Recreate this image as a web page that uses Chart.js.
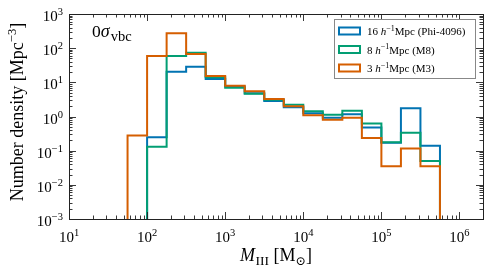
<!DOCTYPE html>
<html>
<head>
<meta charset="utf-8">
<script src="https://cdn.jsdelivr.net/npm/chart.js@4.4.1/dist/chart.umd.min.js"></script>
<style>
    html, body { margin: 0; padding: 0; background: #fff; }
    canvas { display: block; }
</style>
</head>
<body>
<canvas id="massChart" width="489" height="274"></canvas>
<script>
// --- Data ---

// histogram bin edges, M_III [Msun]
const binEdges = [56.2, 100, 177.8, 316.2, 562.3, 1000, 1778, 3162, 5623, 10000, 17783, 31623, 56234, 100000, 177828, 316228, 562341];

// number density per bin [Mpc^-3] (null = empty bin)
const phi4096 = [null, 0.245, 20.5, 28.5, 12.5, 7.6, 4.8, 2.85, 1.86, 1.24, 0.92, 1.16, 0.48, 0.17, 1.74, 0.14];
const m8 = [null, 0.13, 59, 74, 14, 7.0, 4.6, 3.1, 2.2, 1.42, 1.13, 1.48, 0.62, 0.176, 0.336, 0.05];
const m3 = [0.28, 59, 272, 67, 15.3, 8.0, 5.5, 3.25, 2.0, 1.08, 0.81, 0.92, 0.235, 0.035, 0.115, 0.035];

const seriesBox = ['16', '8', '3'];
const seriesRun = ['Phi-4096', 'M8', 'M3'];
const seriesColors = ['#0173b2', '#029e73', '#d55e00'];

// axis ticks
const xTickValues = [1e1, 1e2, 1e3, 1e4, 1e5, 1e6];
const xTickExps = ['1', '2', '3', '4', '5', '6'];
const yTickValues = [1e-3, 1e-2, 1e-1, 1e0, 1e1, 1e2, 1e3];
const yTickExps = ['\u22123', '\u22122', '\u22121', '0', '1', '2', '3'];

const xMin = 10, xMax = 2e6;
const yMin = 1e-3, yMax = 1e3;

const SERIF = '"Liberation Serif", "DejaVu Serif", serif';
const font = (size, style) => (style ? style + ' ' : '') + size + 'px ' + SERIF;

// step outline like matplotlib histtype='step'
function stepPoints(vals) {
    const pts = [];
    const first = vals.findIndex(v => v !== null);
    const n = vals.length;
    pts.push({ x: binEdges[first], y: yMin });
    for (let i = first; i < n; i++) pts.push({ x: binEdges[i], y: vals[i] });
    pts.push({ x: binEdges[n], y: vals[n - 1] });
    pts.push({ x: binEdges[n], y: yMin });
    return pts;
}

// --- rich text helpers (sub/superscripts) ---
function richWidth(ctx, parts) {
    let w = 0;
    parts.forEach(p => { ctx.font = p.f; w += ctx.measureText(p.t).width + (p.gap || 0); });
    return w;
}
function drawRich(ctx, x, y, parts) {
    parts.forEach(p => {
        ctx.font = p.f;
        ctx.fillText(p.t, x, y + (p.dy || 0));
        x += ctx.measureText(p.t).width + (p.gap || 0);
    });
}

// --- axes, ticks, labels, legend ---
const decorPlugin = {
    id: 'decor',
    afterDraw(chart) {
        const { ctx, chartArea: a, scales: { x, y } } = chart;
        ctx.save();

        // ticks (inward, all four sides)
        ctx.strokeStyle = '#222';
        ctx.lineWidth = 0.9;
        ctx.beginPath();
        for (let k = 0; k <= 7; k++) {
            for (let m = 1; m <= 9; m++) {
                const v = m * Math.pow(10, k);
                if (v < xMin || v > xMax) continue;
                const px = Math.round(x.getPixelForValue(v)) + 0.5;
                const len = m === 1 ? 7 : 3.5;
                ctx.moveTo(px, a.bottom); ctx.lineTo(px, a.bottom - len);
                ctx.moveTo(px, a.top); ctx.lineTo(px, a.top + len);
            }
        }
        for (let k = -3; k <= 3; k++) {
            for (let m = 1; m <= 9; m++) {
                const v = m * Math.pow(10, k);
                if (v < yMin * 0.999 || v > yMax * 1.001) continue;
                const py = Math.round(y.getPixelForValue(v)) + 0.5;
                const len = m === 1 ? 7 : 3.5;
                ctx.moveTo(a.left, py); ctx.lineTo(a.left + len, py);
                ctx.moveTo(a.right, py); ctx.lineTo(a.right - len, py);
            }
        }
        ctx.stroke();

        // frame
        ctx.lineWidth = 1;
        ctx.strokeRect(Math.round(a.left) + 0.5, Math.round(a.top) + 0.5,
            Math.round(a.right - a.left), Math.round(a.bottom - a.top));

        ctx.fillStyle = '#000';
        ctx.textBaseline = 'alphabetic';
        ctx.textAlign = 'left';

        // x tick labels
        xTickValues.forEach((v, i) => {
            const parts = [{ t: '10', f: font(15) }, { t: xTickExps[i], f: font(10.5), dy: -6 }];
            const w = richWidth(ctx, parts);
            drawRich(ctx, x.getPixelForValue(v) - w / 2, a.bottom + 23, parts);
        });

        // y tick labels
        yTickValues.forEach((v, i) => {
            const parts = [{ t: '10', f: font(15) }, { t: yTickExps[i], f: font(10.5), dy: -6 }];
            const w = richWidth(ctx, parts);
            drawRich(ctx, a.left - 6 - w, y.getPixelForValue(v) + 7, parts);
        });

        // x title: M_III [M_sun]
        const xt = [
            { t: 'M', f: font(18, 'italic'), gap: 0.5 },
            { t: 'III', f: font(13.5), dy: 3.5 },
            { t: ' [M', f: font(18) },
            { t: '\u2299', f: font(12.5), dy: 3.5 },
            { t: ']', f: font(18) }
        ];
        const xtw = richWidth(ctx, xt);
        drawRich(ctx, 276 - xtw / 2, 261, xt);

        // y title, rotated
        const yt = [
            { t: 'Number density [Mpc', f: font(18) },
            { t: '\u22123', f: font(12.5), dy: -7 },
            { t: ']', f: font(18) }
        ];
        const ytw = richWidth(ctx, yt);
        ctx.save();
        ctx.translate(23, 112);
        ctx.rotate(-Math.PI / 2);
        drawRich(ctx, -ytw / 2, 0, yt);
        ctx.restore();

        // annotation 0 sigma_vbc
        drawRich(ctx, a.left + 23, a.top + 23.3, [
            { t: '0', f: font(17.5) },
            { t: '\u03c3', f: font(18, 'italic'), gap: 1 },
            { t: 'vbc', f: font(14.5), dy: 3.5 }
        ]);

        // legend
        const lx = 334, ly = 19, lw = 141, lh = 59;
        ctx.fillStyle = '#fff';
        ctx.fillRect(lx, ly, lw, lh);
        ctx.strokeStyle = '#888';
        ctx.lineWidth = 1;
        ctx.strokeRect(lx + 0.5, ly + 0.5, lw, lh);
        seriesBox.forEach((s, i) => {
            const cy = 31 + i * 18.5;
            ctx.strokeStyle = seriesColors[i];
            ctx.lineWidth = 2;
            ctx.strokeRect(339, cy - 3.5, 21, 7);
            ctx.fillStyle = '#000';
            drawRich(ctx, 367, cy + 4, [
                { t: s + ' ', f: font(11) },
                { t: 'h', f: font(11, 'italic') },
                { t: '\u22121', f: font(8), dy: -4.5 },
                { t: 'Mpc (' + seriesRun[i] + ')', f: font(11) }
            ]);
        });

        ctx.restore();
    }
};

// --- Chart ---
const ctx = document.getElementById('massChart').getContext('2d');
new Chart(ctx, {
    type: 'line',
    data: {
        datasets: [phi4096, m8, m3].map((vals, i) => ({
            label: seriesBox[i] + ' h^-1 Mpc (' + seriesRun[i] + ')',
            data: stepPoints(vals),
            borderColor: seriesColors[i],
            backgroundColor: seriesColors[i],
            borderWidth: 2,
            stepped: 'before',
            fill: false,
            pointRadius: 0,
            borderJoinStyle: 'miter',
            order: 2 - i // later series drawn on top
        }))
    },
    options: {
        responsive: false,
        animation: false,
        devicePixelRatio: 1,
        layout: { padding: { left: 69, right: 6, top: 14, bottom: 55 } },
        plugins: { legend: { display: false }, tooltip: { enabled: false } },
        scales: {
            x: { type: 'logarithmic', min: xMin, max: xMax, display: false },
            y: { type: 'logarithmic', min: yMin, max: yMax, display: false }
        }
    },
    plugins: [decorPlugin]
});
</script>
</body>
</html>
